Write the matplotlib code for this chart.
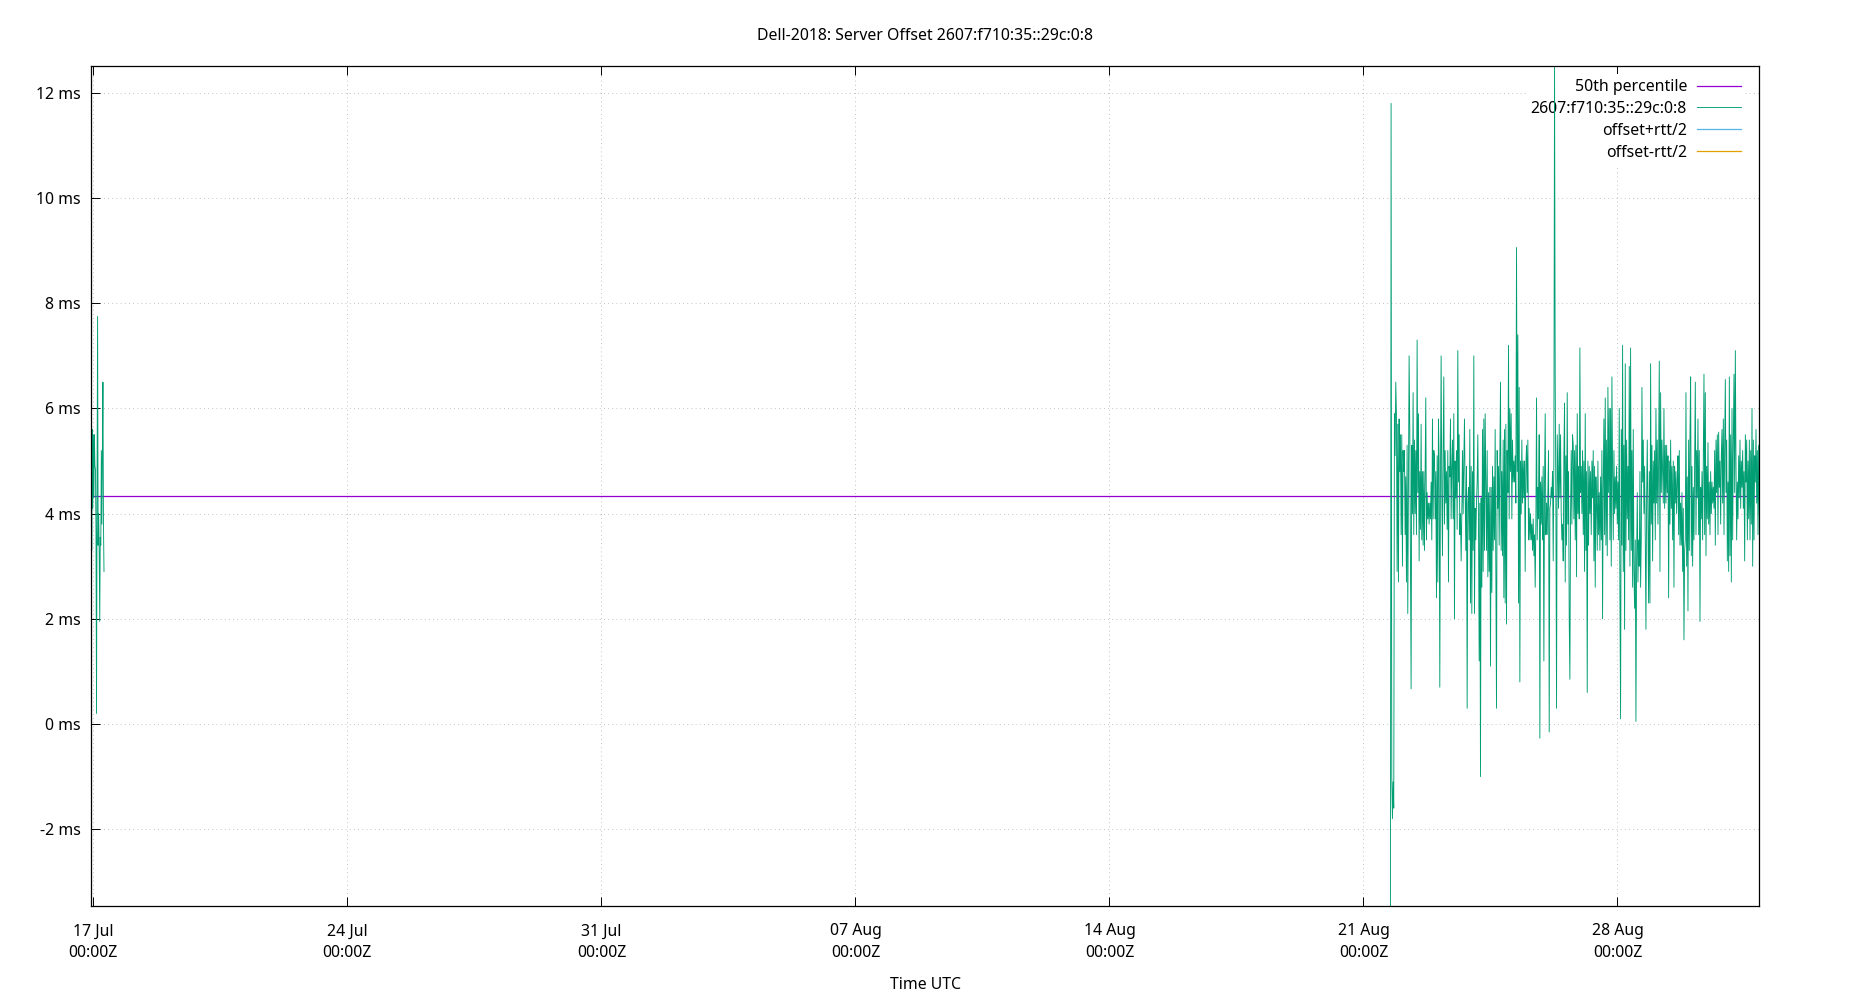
"""Server offset of one NTP peer, drawn to look like the gnuplot original."""
import matplotlib
matplotlib.use('Agg')
import matplotlib.dates as mdates
import pandas as pd
from matplotlib import pyplot as plt
from matplotlib.ticker import FuncFormatter


TITLE = 'Dell-2018: Server Offset 2607:f710:35::29c:0:8'
XLABEL = 'Time UTC'

LABELS = ['50th percentile', '2607:f710:35::29c:0:8',
          'offset+rtt/2', 'offset-rtt/2']
"""list: Legend entries, in drawing order."""

COLORS = ['#9400d3', '#009e73', '#56b4e9', '#e69f00']
"""list: gnuplot default line colors."""

FIRST_RUN = ('2023-07-16 22:10', '2023-07-17 07:00')
"""tuple: Start and end of the first block of samples."""

FIRST_OFFSETS = [
    4.5, 7.1, 3.3, 5.6, 4.1, 5.5, 4.3, 5.5, 4.9, 4.85, 3.7, 0.2, 4.6, 7.75,
    3.4, 4.0, 3.3, 1.95, 3.55, 3.4, 5.2, 3.8, 5.2, 6.5, 3.8, 2.9,
]
"""list: Offsets (ms) of the first block."""

SECOND_RUN = ('2023-08-21 17:50', '2023-08-31 21:50')
"""tuple: Start and end of the second block of samples."""

SECOND_OFFSETS = [
    -3.46, 11.8, -1.0, -1.8, -1.1, -1.6,
    5.9, 5.1, 6.5, 5.9, 2.9, 5.7, 2.7, 5.8, 4.8, 5.5, 3.6, 5.5, 3.0, 5.2,
    4.8, 5.2, 3.6, 4.7, 2.7, 5.3, 2.1, 4.7, 7.0, 5.6, 3.0, 0.67, 5.3, 4.0,
    6.3, 3.6, 5.4, 4.0, 5.2, 3.6, 7.3, 4.4, 5.9, 3.1, 4.8, 3.7, 5.7, 3.5,
    4.8, 3.4, 4.8, 3.3, 4.7, 6.2, 3.5, 4.4, 3.9, 4.2, 3.8, 4.2, 3.9, 4.6,
    3.5, 5.8, 3.9, 5.2, 5.1, 3.9, 4.8, 2.4, 5.1, 2.7, 5.8, 5.0, 0.7, 4.7,
    7.0, 4.4, 3.2, 5.2, 6.6, 3.8, 5.2, 4.2, 4.8, 3.7, 5.2, 2.7, 4.9, 4.7,
    5.8, 3.9, 4.9, 5.4, 3.9, 5.9, 2.0, 5.0, 4.3, 5.2, 3.7, 7.1, 4.6, 5.5,
    3.6, 4.0, 3.1, 4.0, 5.2, 4.0, 5.0, 5.8, 4.4, 3.3, 4.9, 0.3, 4.2, 4.5,
    3.5, 5.6, 2.3, 4.9, 2.1, 4.8, 3.3, 7.0, 2.1, 4.1, 3.5, 4.2, 4.6, 5.5,
    3.9, 1.2,
    4.2, -1.0, 4.3, 2.6, 5.6, 2.9, 5.8, 3.3, 5.9, 4.5, 3.3, 5.2, 2.8, 4.4,
    2.9, 4.5, 1.1, 4.5, 2.5, 4.9, 3.3, 4.7, 3.5, 5.6, 2.9, 0.3, 5.2, 4.1,
    4.9, 3.4, 5.1, 6.5, 3.3, 4.8, 3.2, 5.4, 2.4, 5.6, 2.3, 5.7, 1.9, 5.2,
    4.4, 7.2, 3.9, 6.0, 4.8, 5.9, 3.9, 5.4, 4.6, 5.0, 4.6, 5.1, 4.2, 9.06,
    4.8, 7.4, 2.3, 6.4, 0.8, 5.0, 4.0, 5.4, 4.2, 5.0, 4.3, 5.0, 2.9, 4.9,
    5.3, 4.4, 5.4, 3.5, 4.1, 3.5, 4.0, 3.5, 3.8, 3.3, 3.9, 3.2, 3.6, 2.6,
    3.8, 6.2, 3.5, 4.5, 3.9, 5.5, -0.27, 4.6, 3.8, 4.7, 3.5, 4.9, 1.2, 4.6,
    5.9, 3.6, 4.2, 3.6, 4.4, 5.2, -0.15, 4.1, 4.2, 4.5, 4.3, 4.8, 3.1, 5.1,
    12.52, 6.5, 4.2, 0.3, 5.5, 4.8, 4.1, 5.7, 4.3, 5.5, 4.0, 3.5, 3.8, 3.1,
    5.1, 6.1, 2.7, 5.1, 3.4, 6.3, 3.8, 4.8, 2.0, 0.85, 4.0, 5.2, 3.8, 5.5,
    5.3, 3.9, 5.2, 3.5, 5.3, 2.8, 5.9, 4.0, 4.9, 3.9, 7.15, 4.4, 4.9, 4.0,
    5.2, 3.6, 5.0, 2.9, 5.9, 3.3, 4.8, 0.6, 5.0, 3.4, 4.9, 4.0, 4.8, 3.6,
    5.0, 4.3, 5.2, 3.1, 4.9, 2.6, 4.7, 4.2, 3.3, 5.0, 3.6, 4.4, 3.3, 4.7,
    3.5, 5.2, 2.0, 4.6, 5.8, 3.6, 6.2, 3.4, 5.4, 3.2, 6.4, 4.4, 6.0, 3.5,
    6.0, 3.0, 6.6, 4.8, 3.5, 5.2, 4.0, 4.7, 4.1, 4.9, 3.8, 4.6, 3.5, 6.0,
    2.4, 0.1, 5.6, 3.4, 7.2, 2.9, 5.3, 1.8, 6.85, 3.3, 5.4, 3.9, 4.9, 3.5,
    6.8, 3.0, 7.15, 3.3, 5.2, 2.6, 5.6, 2.9, 2.2, 3.5, 0.05, 3.1, 4.4, 2.7,
    3.5, 3.0, 4.8, 2.6, 3.5, 6.4, 4.6, 5.4, 4.0, 4.9, 3.5, 1.8, 4.3, 5.4,
    3.8, 2.3, 4.8, 2.3, 6.85, 3.8, 5.3, 3.1, 5.0, 4.2, 5.2, 3.5, 6.0, 4.2,
    5.4, 3.8, 5.0, 6.9, 2.9, 6.3, 4.4, 5.4, 4.8, 4.2, 6.0, 4.1, 5.3, 4.2,
    5.3, 4.4, 5.1, 2.4, 5.0, 3.8, 5.4, 4.1, 4.9, 3.5, 5.0, 2.6, 4.9, 4.2,
    4.8, 4.0, 4.6, 5.1, 3.6, 5.2, 3.4, 4.2, 3.4, 4.4, 2.9, 4.1, 1.6, 3.3,
    3.5, 6.3, 3.0, 4.7, 2.15, 5.4, 3.3, 5.5, 6.6, 3.2, 4.9, 3.0, 4.5, 3.5,
    5.0, 6.5, 3.6, 5.2, 4.3, 5.8, 3.6, 5.2, 1.95, 4.5, 3.9, 4.8, 3.5, 5.0,
    6.65, 3.6, 6.3, 3.2, 4.9, 3.9, 5.35, 3.8, 4.6, 3.6, 4.8, 4.0, 4.6, 4.2,
    4.5, 4.1, 5.2, 3.4, 5.4, 4.4, 5.5, 3.6, 5.55, 4.5, 5.0, 3.8, 5.1, 5.6,
    4.2, 5.8, 3.6, 5.3, 6.55, 4.4, 5.4, 3.1, 4.6, 2.9, 6.6, 3.2, 5.5, 2.7,
    6.0, 3.5, 5.4, 6.65, 4.4, 7.1, 4.9, 3.5, 4.6, 3.9, 5.1, 4.3, 5.4, 4.1,
    5.0, 4.5, 5.2, 4.1, 4.8, 3.1, 5.5, 4.6, 5.4, 3.5, 5.0, 3.9, 5.4, 3.5,
    5.2, 3.8, 6.0, 3.0, 5.4, 3.5, 5.1, 4.6, 5.6, 4.2, 5.2, 3.6, 5.3, 4.0,
]
"""list: Offsets (ms) of the second block."""

MEDIAN = 4.33
"""float: 50th percentile of the offsets, ms."""

YTICKS = [-2, 0, 2, 4, 6, 8, 10, 12]
XTICKS = ['2023-07-17', '2023-07-24', '2023-07-31', '2023-08-07',
          '2023-08-14', '2023-08-21', '2023-08-28']


plt.rcParams['font.family'] = ['Noto Sans', 'DejaVu Sans']
FONTSIZE = 11.4

first_t = pd.date_range(*FIRST_RUN, periods=len(FIRST_OFFSETS))
second_t = pd.date_range(*SECOND_RUN, periods=len(SECOND_OFFSETS))

fig = plt.figure(figsize=(18.5, 10), dpi=100)
ax = fig.add_axes([0.049, 0.094, 0.902, 0.8405])

median, = ax.plot([first_t[0], second_t[-1]], [MEDIAN, MEDIAN],
                  color=COLORS[0], lw=0.9, zorder=2)
offset, = ax.plot(first_t, FIRST_OFFSETS, color=COLORS[1], lw=0.65,
                  zorder=2.1)
ax.plot(second_t, SECOND_OFFSETS, color=COLORS[1], lw=0.65, zorder=2.1)
upper, = ax.plot([], [], color=COLORS[2], lw=0.9)
lower, = ax.plot([], [], color=COLORS[3], lw=0.9)

ax.set_xlim(first_t[0], second_t[-1])
ax.set_ylim(min(SECOND_OFFSETS), max(SECOND_OFFSETS))

ax.set_yticks(YTICKS)
ax.yaxis.set_major_formatter(FuncFormatter(lambda v, pos: '%g ms' % v))
ax.set_xticks(pd.to_datetime(XTICKS))
ax.xaxis.set_major_formatter(mdates.DateFormatter('%d %b\n%H:%MZ'))

ax.tick_params(direction='in', length=6.5, width=0.7, top=True, right=False,
               labelsize=FONTSIZE, colors='black')
ax.tick_params(axis='y', pad=7)
ax.tick_params(axis='x', pad=12.5)
for label in ax.get_xticklabels():
    label.set_linespacing(1.5)

for spine in ax.spines.values():
    spine.set_linewidth(0.9)

ax.grid(True, color='#b0b0b0', linestyle=(0, (1, 4)), linewidth=0.6)
ax.set_axisbelow(True)

leg = ax.legend([median, offset, upper, lower], LABELS, loc='upper right',
                bbox_to_anchor=(0.9917, 0.9895), borderaxespad=0,
                markerfirst=False, frameon=True, fancybox=False,
                framealpha=1, facecolor='white', edgecolor='none',
                handlelength=2.75, handletextpad=0.65, labelspacing=0.37,
                borderpad=0.3, fontsize=FONTSIZE)
leg.set_zorder(1.8)

fig.text(0.5, 1 - 0.0355, TITLE, ha='center', va='center', fontsize=FONTSIZE)
fig.text(0.5, 1 - 0.985, XLABEL, ha='center', va='center', fontsize=FONTSIZE)

fig.savefig('out.png', dpi=100)
